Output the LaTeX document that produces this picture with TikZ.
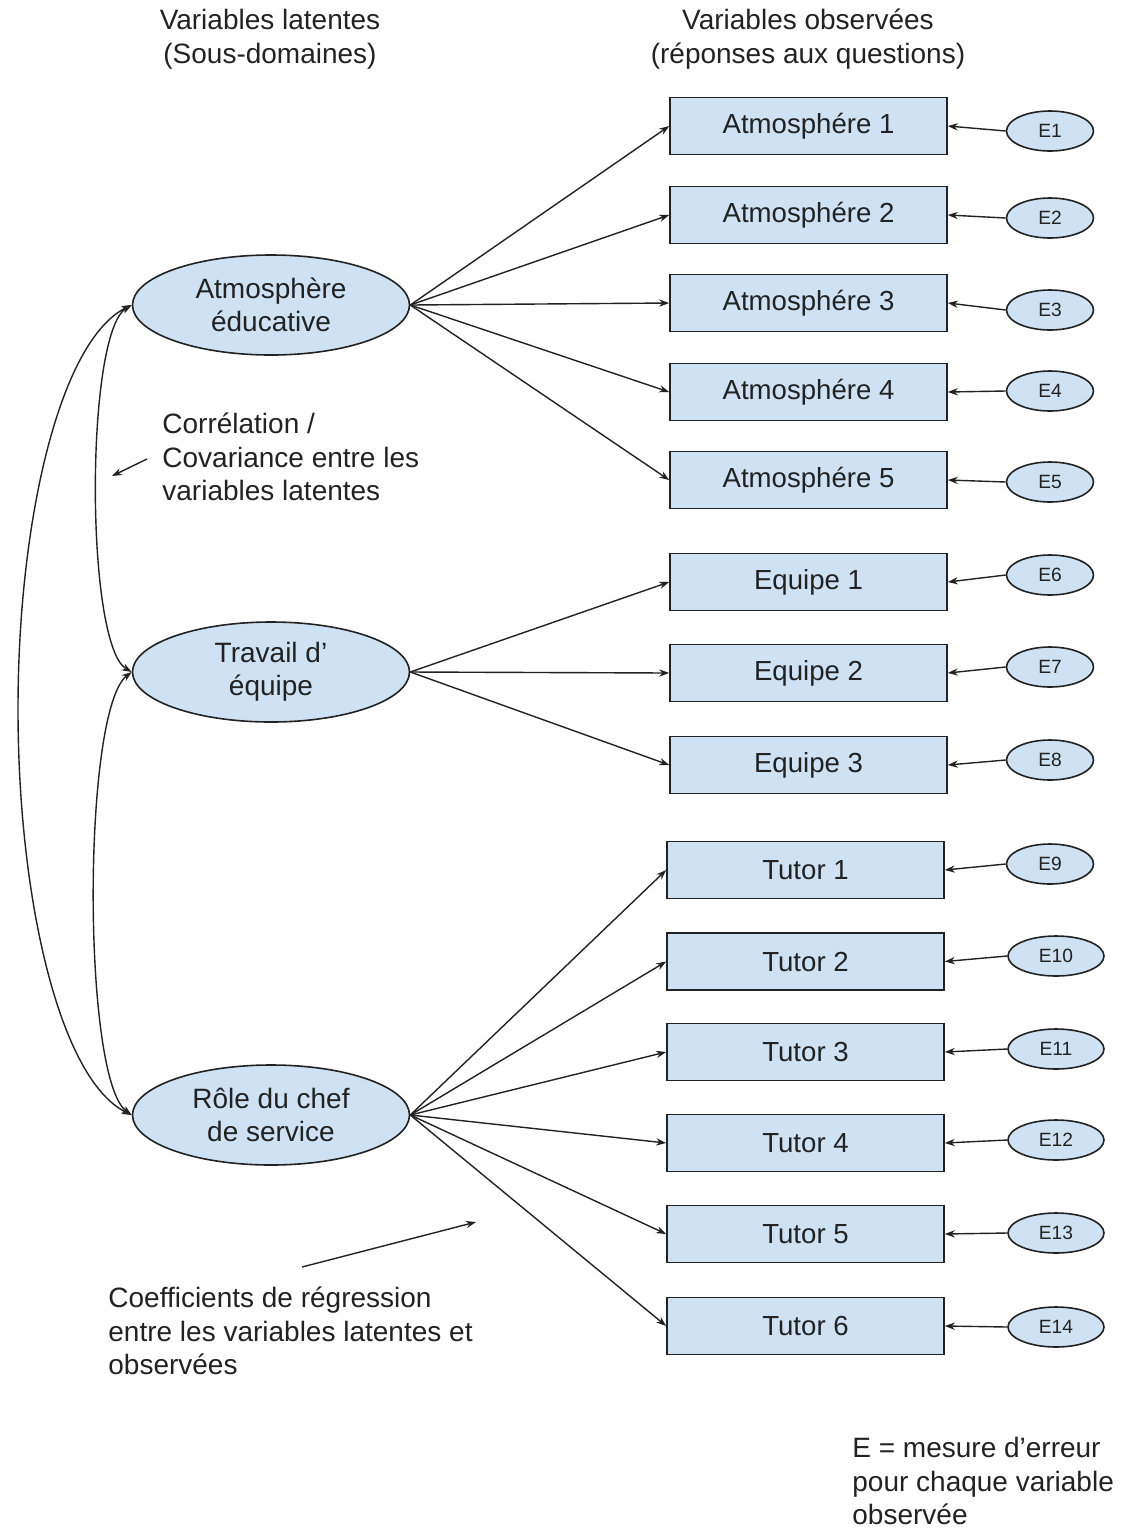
\documentclass[tikz,border=0pt]{standalone}
\usepackage{fontspec}
\setmainfont{Liberation Sans}
\usetikzlibrary{shapes.geometric,arrows.meta}
\definecolor{fillblue}{HTML}{CFE2F3}
\definecolor{ink}{HTML}{222222}
\begin{document}
\begin{tikzpicture}[x=0.5pt,y=-0.5pt,
  every node/.style={text=ink},
  obs/.style={draw=ink, line width=0.8pt, fill=fillblue, minimum width=138.5pt, minimum height=28.5pt, inner sep=0pt, font=\fontsize{13.8pt}{16.5pt}\selectfont},
  lat/.style={ellipse, draw=ink, line width=0.8pt, fill=fillblue, minimum width=138.5pt, minimum height=50pt, inner sep=0pt, align=center, font=\fontsize{14pt}{16.6pt}\selectfont},
  err/.style={ellipse, draw=ink, line width=0.8pt, fill=fillblue, minimum width=43.5pt, minimum height=20pt, inner sep=0pt, font=\fontsize{9.6pt}{11pt}\selectfont},
  errw/.style={err, minimum width=48pt},
  lbl/.style={align=left, anchor=west, font=\fontsize{14pt}{16.8pt}\selectfont, inner sep=0pt},
  ttl/.style={align=center, font=\fontsize{14pt}{17pt}\selectfont, inner sep=0pt},
  arr/.style={draw=ink, line width=0.7pt, -{Stealth[length=5pt,width=3.6pt]}},
  biarr/.style={draw=ink, line width=0.7pt, {Stealth[length=5pt,width=3.6pt]}-{Stealth[length=5pt,width=3.6pt]}}
]
\useasboundingbox (0,0) rectangle (1123,1528);

% titles
\node[ttl] (tl) at (270,39) {Variables latentes\\(Sous-domaines)};
\node[ttl] (tobs) at (808,39) {Variables observées\\(réponses aux questions)};

% latent variables
\node[lat] (A) at (271,305) {Atmosphère\\éducative};
\node[lat] (T) at (271,672) {Travail d’\\équipe};
\node[lat] (R) at (271,1115) {Rôle du chef\\de service};

% observed variables
\node[obs] (A1) at (808.5,126) {Atmosphére 1};
\node[obs] (A2) at (808.5,215) {Atmosphére 2};
\node[obs] (A3) at (808.5,303) {Atmosphére 3};
\node[obs] (A4) at (808.5,392) {Atmosphére 4};
\node[obs] (A5) at (808.5,480) {Atmosphére 5};
\node[obs] (Q1) at (808.5,582) {Equipe 1};
\node[obs] (Q2) at (808.5,673) {Equipe 2};
\node[obs] (Q3) at (808.5,765) {Equipe 3};
\node[obs] (U1) at (805.5,870) {Tutor 1};
\node[obs] (U2) at (805.5,961.5) {Tutor 2};
\node[obs] (U3) at (805.5,1052) {Tutor 3};
\node[obs] (U4) at (805.5,1143) {Tutor 4};
\node[obs] (U5) at (805.5,1234) {Tutor 5};
\node[obs] (U6) at (805.5,1326) {Tutor 6};

% errors
\node[err] (E1) at (1050,131) {E1};
\node[err] (E2) at (1050,218) {E2};
\node[err] (E3) at (1050,310) {E3};
\node[err] (E4) at (1050,391) {E4};
\node[err] (E5) at (1050,482) {E5};
\node[err] (E6) at (1050,575) {E6};
\node[err] (E7) at (1050,667) {E7};
\node[err] (E8) at (1050,760) {E8};
\node[err] (E9) at (1050,864) {E9};
\node[errw] (E10) at (1056,956) {E10};
\node[errw] (E11) at (1056,1049) {E11};
\node[errw] (E12) at (1056,1140) {E12};
\node[errw] (E13) at (1056,1233) {E13};
\node[errw] (E14) at (1056,1327) {E14};

% regression arrows
\foreach \b in {A1,A2,A3,A4,A5} \draw[arr] (A.east) -- (\b.west);
\foreach \b in {Q1,Q2,Q3} \draw[arr] (T.east) -- (\b.west);
\foreach \b in {U1,U2,U3,U4,U5,U6} \draw[arr] (R.east) -- (\b.west);

% error arrows
\foreach \e/\b in {E1/A1,E2/A2,E3/A3,E4/A4,E5/A5,E6/Q1,E7/Q2,E8/Q3,E9/U1,E10/U2,E11/U3,E12/U4,E13/U5,E14/U6}
  \draw[arr] (\e.west) -- (\b.east);

% covariances
\draw[biarr] (A.west) .. controls (60,340) and (18,520) .. (18,709) .. controls (18,900) and (60,1080) .. (R.west);
\draw[biarr] (A.west) .. controls (85,332) and (85,645) .. (T.west);
\draw[biarr] (T.west) .. controls (82,710) and (82,1080) .. (R.west);

% annotations
\node[lbl] (corr) at (162,457) {Corrélation /\\Covariance entre les\\variables latentes};
\coordinate (c1s) at (147,459);
\coordinate (c1e) at (112,476);
\draw[arr] (c1s) -- (c1e);

\node[lbl] (coef) at (108,1331) {Coefficients de régression\\entre les variables latentes et\\observées};
\coordinate (c2s) at (302,1267);
\coordinate (c2e) at (476,1222);
\draw[arr] (c2s) -- (c2e);

\node[lbl] (emes) at (852,1481) {E = mesure d’erreur\\pour chaque variable\\observée};
\end{tikzpicture}
\end{document}
